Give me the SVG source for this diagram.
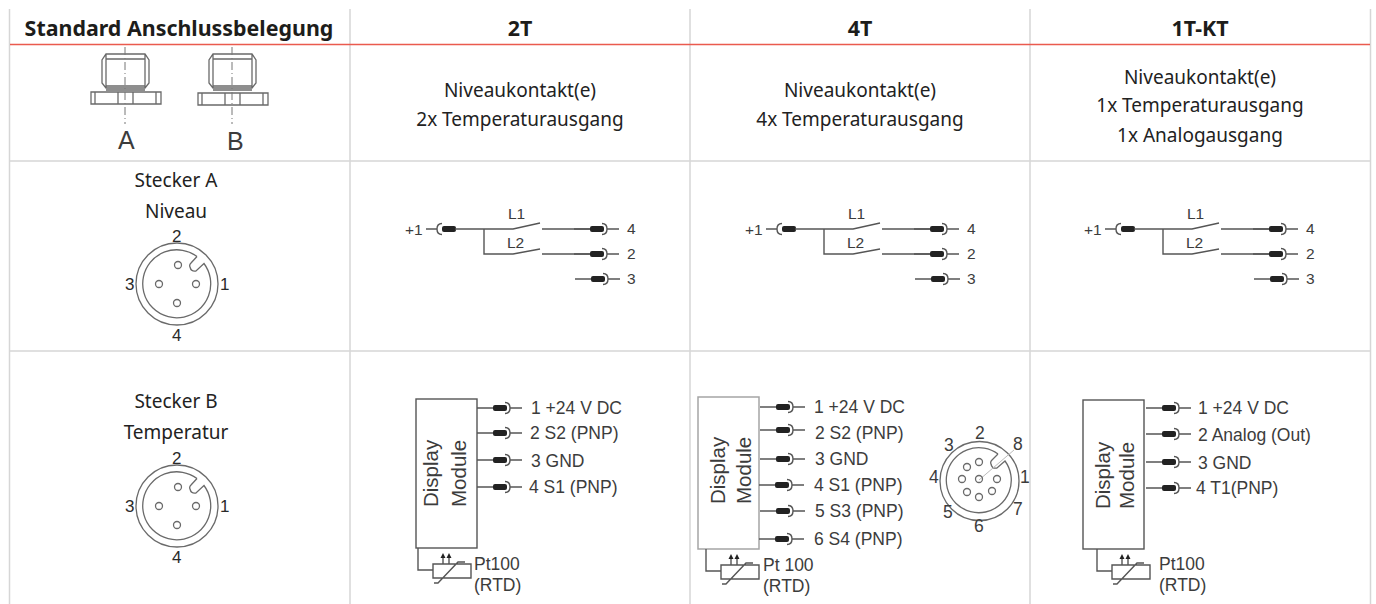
<svg xmlns="http://www.w3.org/2000/svg" xmlns:xlink="http://www.w3.org/1999/xlink" width="1376" height="604" viewBox="0 0 1376 604">
<style>
.h{font:700 21.4px "Noto Sans",sans-serif;fill:#1d1d1b;text-anchor:middle}
.t{font:400 19px "Noto Sans",sans-serif;fill:#222;text-anchor:middle}
.a{font-family:"Liberation Sans",Arial,sans-serif;font-size:17.5px;fill:#3c3c3c}
.m{font-size:20.5px}
.s{font-size:15.5px}
.p{font-size:17px;fill:#2a2a2a}
.f{font-size:25px}
.g{stroke:#d6d6d6;stroke-width:1.5;fill:none}
.l{stroke:#555;stroke-width:1.4;fill:none}
.b{stroke:#6a6a6a;stroke-width:1.3;fill:none}
.q{stroke:#a5a5a5;stroke-width:1.5;fill:none}
.d{stroke:#777;stroke-width:1;fill:none;stroke-dasharray:8 3 1 3}
.c{fill:#222}
</style>
<defs>
<g id="out"><path class="l" d="M-16 0H0M12-5.500Q17-5.500 17 0T12 5.500M17 0H29"/><rect class="c" x="0" y="-3" width="14" height="6" rx="2"/></g>
<g id="in"><path class="l" d="M0 0H11M16-5.500Q11-5.500 11 0T16 5.500M18 0H30"/><rect class="c" x="16" y="-3" width="14" height="6" rx="2"/></g>
<g id="level">
<use xlink:href="#in" x="426" y="229"/>
<path class="l" d="M455 229H513L540 223M542 229H590M484 229V254H513L540 249M542 254H590"/>
<use xlink:href="#out" x="590" y="229"/><use xlink:href="#out" x="590" y="254"/><use xlink:href="#out" x="591" y="279"/>
<g class="a"><text x="405" y="235" class="s">+1</text><text x="627" y="234" class="s">4</text><text x="627" y="259" class="s">2</text><text x="627" y="284" class="s">3</text><text x="508" y="219" class="s">L1</text><text x="507" y="248" class="s">L2</text></g>
</g>
<g id="round">
<circle cx="177" cy="284" r="41" class="b"/>
<path class="b" d="M197 256.500A34 34 0 1 0 204 263.500L196 271Q191 272 190 267Q189 265 191 263L197 256.500"/>
<circle cx="178" cy="265" r="3.500" class="b"/><circle cx="159" cy="284" r="3.500" class="b"/><circle cx="196" cy="284" r="3.500" class="b"/><circle cx="177" cy="303" r="3.500" class="b"/>
</g>
<g id="pt">
<path class="l" d="M0 0V22H15M15 16H53V30H15ZM16 35H20L40 14H47"/>
<path class="l" d="M25 16V8M31 16V8"/><path class="c" d="M22.500 10L25 5L27.500 10ZM28.500 10L31 5L33.500 10Z"/>
</g>
</defs>
<g id="grid">
<path class="g" d="M9.500 9V604M350 9V604M690 9V604M1030 9V604M1370.500 9V604"/>
<path class="g" d="M10 161H1370M10 351H1370"/>
<path d="M10 44.500H1370" stroke="#ea5a4e" stroke-width="1.500"/>
</g>
<g id="header">
<text class="h" x="179" y="36">Standard Anschlussbelegung</text>
<text class="h" x="520" y="36">2T</text><text class="h" x="860" y="36">4T</text><text class="h" x="1200" y="36">1T-KT</text>
</g>
<g id="col-text">
<text class="t" x="520" y="97">Niveaukontakt(e)</text><text class="t" x="520" y="126">2x Temperaturausgang</text>
<text class="t" x="860" y="97">Niveaukontakt(e)</text><text class="t" x="860" y="126">4x Temperaturausgang</text>
<text class="t" x="1200" y="84">Niveaukontakt(e)</text><text class="t" x="1200" y="112">1x Temperaturausgang</text><text class="t" x="1200" y="142">1x Analogausgang</text>
</g>
<g id="fittings">
<path class="b" d="M106 54H145L149 60V83L145 88H106L102 83V60ZM106 54V88M145 54V88M106 59H145M106 86H145M106 90H145M91 92H161V104H91ZM95 92V104M118 92V104M133 92V104M156 92V104"/>
<path class="d" d="M125 47V124"/>
<path class="b" d="M213 54H252L256 60V83L252 88H213L209 83V60ZM213 54V88M252 54V88M213 59H252M213 86H252M213 90H252M198 93H268V105H198ZM202 93V105M225 93V105M240 93V105M263 93V105"/>
<path class="d" d="M232 47V124"/>
<text class="a f" x="118" y="149">A</text><text class="a f" x="227" y="150">B</text>
</g>
<g id="stecker-a">
<text class="t" x="176" y="187">Stecker A</text><text class="t" x="176" y="218">Niveau</text>
<use xlink:href="#round"/>
<g class="a"><text x="172" y="242" class="p">2</text><text x="125" y="290" class="p">3</text><text x="220" y="290" class="p">1</text><text x="172" y="341" class="p">4</text></g>
</g>
<g id="stecker-b">
<text class="t" x="176" y="408">Stecker B</text><text class="t" x="176" y="439">Temperatur</text>
<use xlink:href="#round" y="222"/>
<g class="a"><text x="172" y="464" class="p">2</text><text x="125" y="512" class="p">3</text><text x="220" y="512" class="p">1</text><text x="172" y="563" class="p">4</text></g>
</g>
<g id="level-2t"><use xlink:href="#level"/></g>
<g id="level-4t"><use xlink:href="#level" x="340"/></g>
<g id="level-kt"><use xlink:href="#level" x="679"/></g>
<g id="mod-2t">
<rect class="l" x="416" y="399" width="61" height="149"/>
<g class="a m"><text transform="translate(438 507) rotate(-90)">Display</text><text transform="translate(466 507) rotate(-90)">Module</text></g>
<use xlink:href="#out" x="493" y="408"/><use xlink:href="#out" x="493" y="433"/><use xlink:href="#out" x="493" y="460"/><use xlink:href="#out" x="493" y="487"/>
<g class="a"><text x="531" y="414">1 +24 V DC</text><text x="530" y="439">2 S2 (PNP)</text><text x="531" y="467">3 GND</text><text x="529" y="493">4 S1 (PNP)</text><text x="474" y="570">Pt100</text><text x="474" y="591">(RTD)</text></g>
<use xlink:href="#pt" x="418" y="548"/>
</g>
<g id="mod-4t">
<rect class="q" x="698" y="397" width="61" height="152"/>
<g class="a m"><text transform="translate(725 504) rotate(-90)">Display</text><text transform="translate(751 504) rotate(-90)">Module</text></g>
<use xlink:href="#out" x="776" y="407"/><use xlink:href="#out" x="776" y="430"/><use xlink:href="#out" x="776" y="459"/><use xlink:href="#out" x="775" y="485"/><use xlink:href="#out" x="776" y="511"/><use xlink:href="#out" x="775" y="539"/>
<g class="a"><text x="814" y="413">1 +24 V DC</text><text x="815" y="439">2 S2 (PNP)</text><text x="815" y="465">3 GND</text><text x="814" y="491">4 S1 (PNP)</text><text x="815" y="517">5 S3 (PNP)</text><text x="814" y="545">6 S4 (PNP)</text><text x="763" y="571">Pt 100</text><text x="763" y="592">(RTD)</text></g>
<use xlink:href="#pt" x="706" y="549"/>
<circle class="b" cx="979.500" cy="481" r="39.500"/>
<path class="b" d="M998 454A32.500 32.500 0 1 0 1005 461L997 468Q992 469 991 464Q990 462 992 460L998 454"/>
<path stroke="#bbb" fill="none" d="M1014 450L979 480"/>
<g><circle class="b" cx="979" cy="462" r="3.500"/><circle class="b" cx="967" cy="467" r="3.500"/><circle class="b" cx="962" cy="479" r="3.500"/><circle class="b" cx="979" cy="479" r="3.500"/><circle class="b" cx="997" cy="479" r="3.500"/><circle class="b" cx="967" cy="492" r="3.500"/><circle class="b" cx="979" cy="497" r="3.500"/><circle class="b" cx="992" cy="491" r="3.500"/></g>
<g class="a"><text x="975" y="439">2</text><text x="944" y="451">3</text><text x="1013" y="450">8</text><text x="929" y="483">4</text><text x="1020" y="483">1</text><text x="943" y="518">5</text><text x="1013" y="515">7</text><text x="974" y="532">6</text></g>
</g>
<g id="mod-kt">
<rect class="l" x="1083" y="400" width="61" height="149"/>
<g class="a m"><text transform="translate(1110 509) rotate(-90)">Display</text><text transform="translate(1134 509) rotate(-90)">Module</text></g>
<use xlink:href="#out" x="1162" y="408"/><use xlink:href="#out" x="1162" y="434"/><use xlink:href="#out" x="1162" y="462"/><use xlink:href="#out" x="1162" y="488"/>
<g class="a"><text x="1198" y="414">1 +24 V DC</text><text x="1198" y="441">2 Analog (Out)</text><text x="1198" y="469">3 GND</text><text x="1196" y="494">4 T1(PNP)</text><text x="1159" y="570">Pt100</text><text x="1159" y="591">(RTD)</text></g>
<use xlink:href="#pt" x="1097" y="549"/>
</g>
</svg>
